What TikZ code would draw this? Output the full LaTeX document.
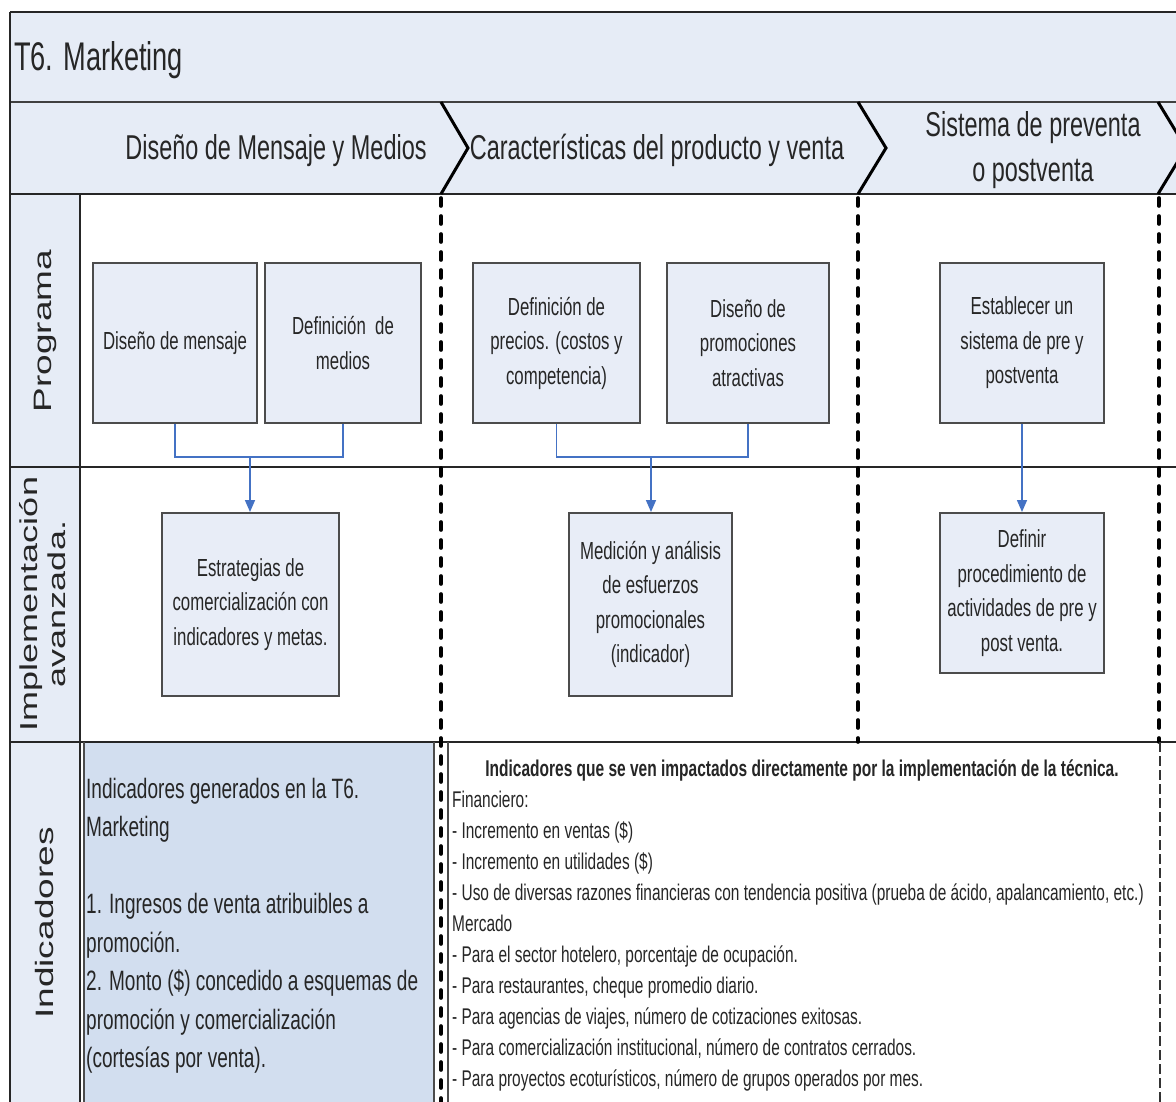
\documentclass[tikz,border=0pt]{standalone}
\usepackage{fontspec}
\usepackage{graphicx}
\setmainfont{Liberation Sans}[FakeStretch=0.68]
\newfontfamily\lanefont{Liberation Sans}
\usetikzlibrary{arrows.meta}
\definecolor{bandfill}{RGB}{230,236,246}
\definecolor{boxfill}{RGB}{232,237,247}
\definecolor{kpifill}{RGB}{210,222,239}
\definecolor{flowblue}{RGB}{68,114,196}
\definecolor{inkgray}{RGB}{38,38,38}

\begin{document}
\begin{tikzpicture}[x=1pt,y=-1pt,
  heavy/.style={draw=black!85, line width=2.6pt},
  thinrule/.style={draw=black!70, line width=1.2pt},
  lanedash/.style={draw=black, line width=3.6pt, dash pattern=on 8pt off 10pt, line cap=round},
  edgedash/.style={draw=black!80, line width=2pt, dash pattern=on 10pt off 4pt},
  chevron/.style={draw=black, line width=3pt, line join=miter},
  proc/.style={rectangle, draw=black!70, line width=2pt, fill=boxfill, align=center,
    inner sep=0pt, text=inkgray, font=\fontsize{24.7}{34.5}\selectfont},
  flow/.style={draw=flowblue, line width=1.6pt},
  flowarrow/.style={flow, -{Triangle[length=12pt,width=10pt]}},
  phase/.style={align=center, inner sep=0pt, text=inkgray, font=\fontsize{34.5}{45}\selectfont},
  lanelabel/.style={rotate=90, inner sep=0pt, text=inkgray},
  bodytext/.style={align=left, inner sep=0pt, text=inkgray}
]
\useasboundingbox (0,0) rectangle (1176,1102);
\clip (0,0) rectangle (1176,1102);

% background and bands
\fill[white] (0,0) rectangle (1176,1102);
\fill[bandfill] (10,12) rectangle (1176,194);
\fill[bandfill] (10,194) rectangle (80,1102);
\fill[kpifill] (84,742) rectangle (434,1102);

% grid rules
\draw[heavy] (10,12) -- (1176,12);
\draw[heavy, draw=black!75] (10,102) -- (1176,102);
\draw[heavy] (10,194) -- (1176,194);
\draw[heavy] (10,467) -- (1176,467);
\draw[heavy] (10,742) -- (1176,742);
\draw[heavy] (10,12) -- (10,1102);
\draw[heavy] (80,194) -- (80,1102);
\draw[thinrule] (84,742) -- (84,1102);
\draw[thinrule] (434,742) -- (434,1102);
\draw[thinrule] (448,742) -- (448,1102);

% phase separators
\draw[lanedash] (441,198) -- (441,1102);
\draw[lanedash] (858,198) -- (858,742);
\draw[lanedash] (1159,198) -- (1159,742);
\draw[edgedash] (1160,742) -- (1160,1102);
\draw[chevron] (441,102) -- (468,148) -- (441,194);
\draw[chevron] (858,102) -- (886,148) -- (858,194);
\draw[chevron] (1158,102) -- (1186,148) -- (1158,194);

% title and phase headings
\node[anchor=base west, inner sep=0pt, text=inkgray, font=\fontsize{40}{48}\selectfont]
  (title) at (14,71) {T6. Marketing};
\node[phase, anchor=base] (ph1) at (276,160) {Diseño de Mensaje y Medios};
\node[phase, anchor=base] (ph2) at (657,160) {Características del producto y venta};
\node[phase] (ph3) at (1033,150.5) {\strut Sistema de preventa\\\strut o postventa};

% lane labels
\node[lanelabel] (lprog) at (45,331)
  {\scalebox{1}[0.68]{\lanefont\fontsize{37}{41}\selectfont Programa}};
\node[lanelabel] (limpl) at (46,604)
  {\scalebox{1}[0.68]{\lanefont\fontsize{36}{41}\selectfont\begin{tabular}{@{}c@{}}Implementación\\avanzada.\end{tabular}}};
\node[lanelabel] (lind) at (45,923)
  {\scalebox{1}[0.68]{\lanefont\fontsize{37}{41}\selectfont Indicadores}};

% program activities
\node[proc, minimum width=164pt, minimum height=160pt] (b1) at (175,343) {Diseño de mensaje};
\node[proc, minimum width=156pt, minimum height=160pt] (b2) at (343,343) {Definición\ \ de\\medios};
\node[proc, minimum width=167pt, minimum height=160pt] (b3) at (556.5,343) {Definición de\\precios. (costos y\\competencia)};
\node[proc, minimum width=162pt, minimum height=160pt] (b4) at (748,343) {Diseño de\\promociones\\atractivas};
\node[proc, minimum width=164pt, minimum height=160pt] (b5) at (1022,343) {Establecer un\\sistema de pre y\\postventa};

% advanced implementation
\node[proc, minimum width=177pt, minimum height=183pt] (b6) at (250.5,604.5) {Estrategias de\\comercialización con\\indicadores y metas.};
\node[proc, minimum width=163pt, minimum height=183pt] (b7) at (650.5,604.5) {Medición y análisis\\de esfuerzos\\promocionales\\(indicador)};
\node[proc, minimum width=164pt, minimum height=160pt] (b8) at (1022,593) {Definir\\procedimiento de\\actividades de pre y\\post venta.};

% flows
\coordinate (j1) at (250,457);
\coordinate (j2) at (651,457);
\draw[flow] (b1.south) |- (j1) -| (b2.south);
\draw[flowarrow] (j1) -- (j1 |- b6.north);
\draw[flow] (b3.south) |- (j2) -| (b4.south);
\draw[flowarrow] (j2) -- (j2 |- b7.north);
\draw[flowarrow] (b5.south) -- (b8.north);

% indicators
\node[bodytext, anchor=north west, font=\fontsize{28}{38.5}\selectfont] (kpi) at (86,771)
  {\strut Indicadores generados en la T6.\\\strut Marketing\\\strut\\%
   \strut 1. Ingresos de venta atribuibles a\\\strut promoción.\\%
   \strut 2. Monto (\$) concedido a esquemas de\\\strut promoción y comercialización\\%
   \strut (cortesías por venta).};
\node[anchor=base, inner sep=0pt, text=inkgray, font=\bfseries\fontsize{22.8}{31}\selectfont] (imphead) at (802,776.5)
  {Indicadores que se ven impactados directamente por la implementación de la técnica.};
\node[bodytext, anchor=north west, font=\fontsize{22.7}{31}\selectfont] (impact) at (452,785.8)
  {\strut Financiero:\\
   \strut - Incremento en ventas (\$)\\
   \strut - Incremento en utilidades (\$)\\
   \strut - Uso de diversas razones financieras con tendencia positiva (prueba de ácido, apalancamiento, etc.)\\
   \strut Mercado\\
   \strut - Para el sector hotelero, porcentaje de ocupación.\\
   \strut - Para restaurantes, cheque promedio diario.\\
   \strut - Para agencias de viajes, número de cotizaciones exitosas.\\
   \strut - Para comercialización institucional, número de contratos cerrados.\\
   \strut - Para proyectos ecoturísticos, número de grupos operados por mes.};
\end{tikzpicture}
\end{document}
